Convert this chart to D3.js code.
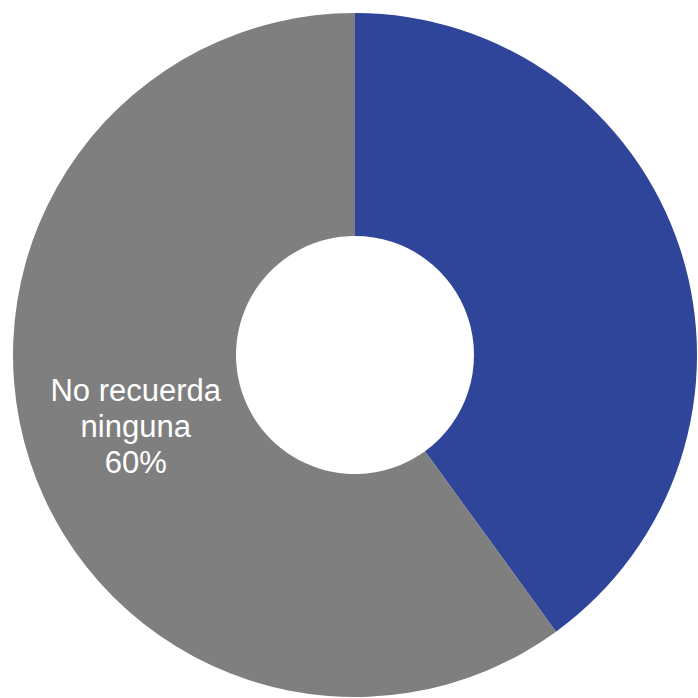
<!DOCTYPE html>
<html>
<head>
<meta charset="utf-8">
<script src="https://cdn.jsdelivr.net/npm/d3@7"></script>
<style>
  html, body { margin: 0; padding: 0; background: #fff; }
  svg { display: block; }
</style>
</head>
<body>
<svg id="chart"></svg>
<script>
// chart data
var categories = ["Recuerda alguna", "No recuerda ninguna"];
var values = [40, 60];
var labelLines = [[], ["No recuerda", "ninguna", "60%"]];
var colors = ["#2E4599", "#7F7F7F"];

var width = 698, height = 698;
var cx = 355, cy = 355;
var outerR = 342, innerR = 119;

var svg = d3.select("#chart")
    .attr("width", width)
    .attr("height", height);

var g = svg.append("g")
    .attr("transform", "translate(" + cx + "," + cy + ")");

var pie = d3.pie()
    .sort(null)
    .value(function(d, i){ return values[i]; });

var arc = d3.arc()
    .innerRadius(innerR)
    .outerRadius(outerR);

var arcs = pie(categories);

g.selectAll("path")
    .data(arcs)
    .enter()
    .append("path")
    .attr("d", arc)
    .attr("fill", function(d, i){ return colors[i]; });

// labels sit on the centroid of each slice
var labels = g.selectAll("text.label")
    .data(arcs)
    .enter()
    .append("text")
    .attr("class", "label")
    .attr("transform", function(d){ return "translate(" + arc.centroid(d) + ")"; })
    .attr("text-anchor", "middle")
    .attr("fill", "#fff")
    .style("font-family", "'Liberation Sans', Arial, sans-serif")
    .style("font-size", "31px");

labels.each(function(d, i){
    var lines = labelLines[i];
    var t = d3.select(this);
    lines.forEach(function(line, k){
        t.append("tspan")
            .attr("x", 0)
            .attr("y", (k - (lines.length - 1) / 2) * 36 + 11)
            .text(line);
    });
});
</script>
</body>
</html>
